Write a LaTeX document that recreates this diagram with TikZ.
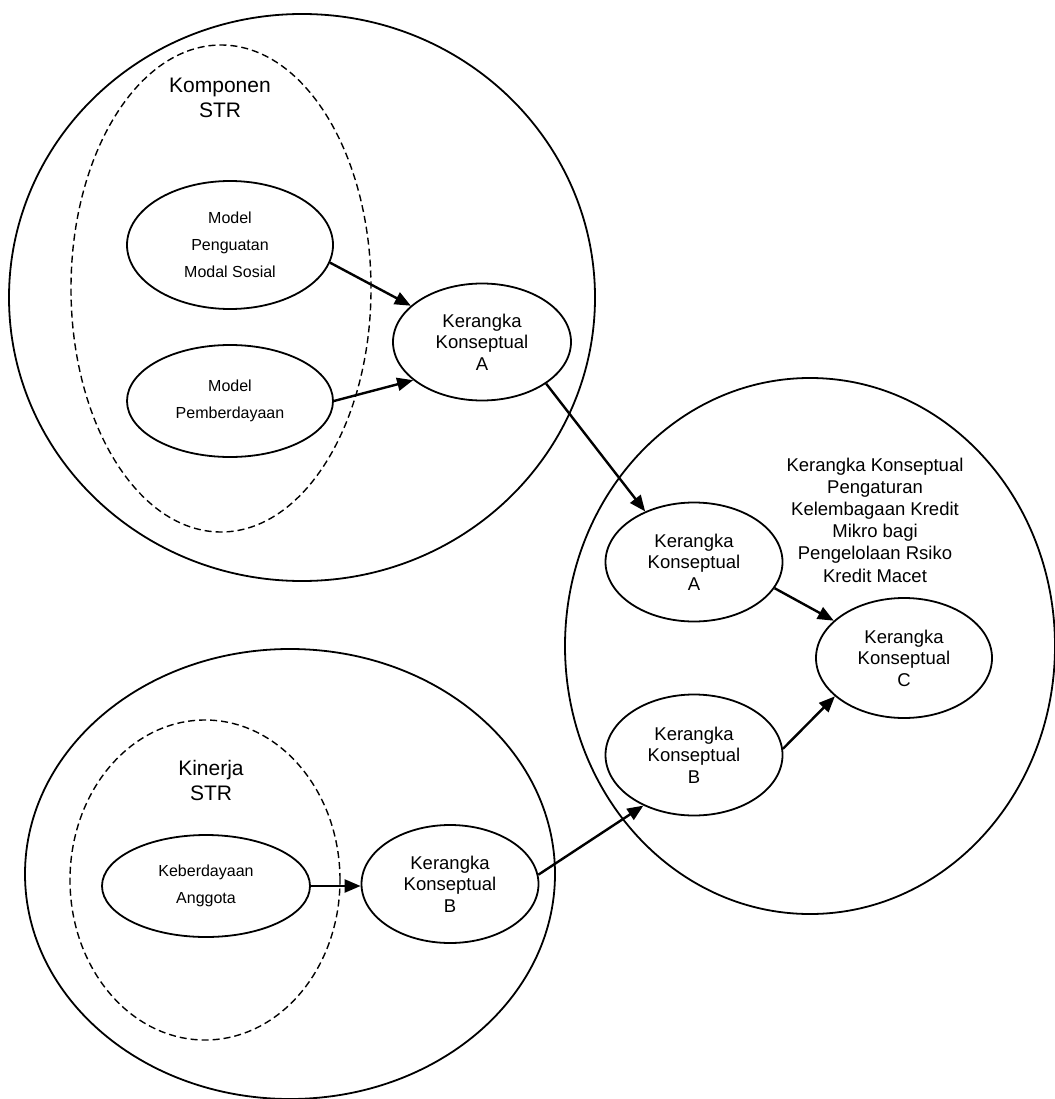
\documentclass[tikz,border=0pt]{standalone}
\usepackage{fontspec}
\setmainfont{Liberation Sans}
\usetikzlibrary{shapes.geometric,arrows.meta}
\begin{document}
\begin{tikzpicture}[x=1pt,y=-1pt,
  oval/.style={ellipse,draw,line width=1.8pt,fill=white,inner sep=0pt,align=center},
  group/.style={ellipse,draw,line width=1.4pt,dash pattern=on 7pt off 4pt,inner sep=0pt},
  arr/.style={line width=2.4pt,-{Triangle[length=16pt,width=13pt]}},
  kk/.style={font=\fontsize{18.5}{21.5}\selectfont},
  small/.style={font=\fontsize{16}{27}\selectfont},
  caption/.style={font=\fontsize{21}{25}\selectfont,align=center}]
\useasboundingbox (0,0) rectangle (1054,1099);
\fill[white] (0,0) rectangle (1054,1099);

% outer regions
\node[oval,minimum width=586pt,minimum height=567pt] (top) at (302,297.5) {};
\node[oval,minimum width=490pt,minimum height=536pt] (right) at (810,646) {};
\node[oval,minimum width=530pt,minimum height=450pt] (bottom) at (290,874) {};

% dashed groups
\node[group,minimum width=300pt,minimum height=487pt] (komp) at (221,288.5) {};
\node[group,minimum width=270pt,minimum height=320pt] (kin) at (205,880) {};

\node[caption] (kompl) at (220,98) {Komponen\\STR};
\node[caption] (kinl) at (211,780) {Kinerja\\STR};

% upper region
\node[oval,small,minimum width=206pt,minimum height=128pt] (mps) at (230,245)
  {Model\\Penguatan\\Modal Sosial};
\node[oval,small,minimum width=206pt,minimum height=112pt] (mp) at (230,401)
  {Model\\Pemberdayaan};
\node[oval,kk,minimum width=178pt,minimum height=117pt] (ka1) at (482,342)
  {Kerangka\\Konseptual\\A};

% lower region
\node[oval,small,minimum width=208pt,minimum height=102pt] (kea) at (206,886)
  {Keberdayaan\\Anggota};
\node[oval,kk,minimum width=177pt,minimum height=118pt] (kb1) at (450,884)
  {Kerangka\\Konseptual\\B};

% right region
\node[oval,kk,minimum width=177pt,minimum height=119pt] (ka2) at (694,562)
  {Kerangka\\Konseptual\\A};
\node[oval,kk,minimum width=177pt,minimum height=121pt] (kb2) at (694,755)
  {Kerangka\\Konseptual\\B};
\node[oval,kk,minimum width=176pt,minimum height=120pt] (kc) at (904,658)
  {Kerangka\\Konseptual\\C};
\node[align=center,font=\fontsize{18.5}{22.2}\selectfont] (title) at (875,520)
  {Kerangka Konseptual\\Pengaturan\\Kelembagaan Kredit\\Mikro bagi\\Pengelolaan Rsiko\\Kredit Macet};

% connectors
\draw[arr] (mps.-10) -- (ka1.153);
\draw[arr] (mp.0) -- (ka1.209);
\draw[arr] (ka1.-33) -- (ka2.134);
\draw[arr] (kea.east) -- (kea.east -| kb1.west);
\draw[arr] (kb1.6) -- (kb2.225);
\draw[arr] (ka2.-18) -- (kc.152);
\draw[arr] (kb2.4) -- (kc.209);
\end{tikzpicture}
\end{document}
